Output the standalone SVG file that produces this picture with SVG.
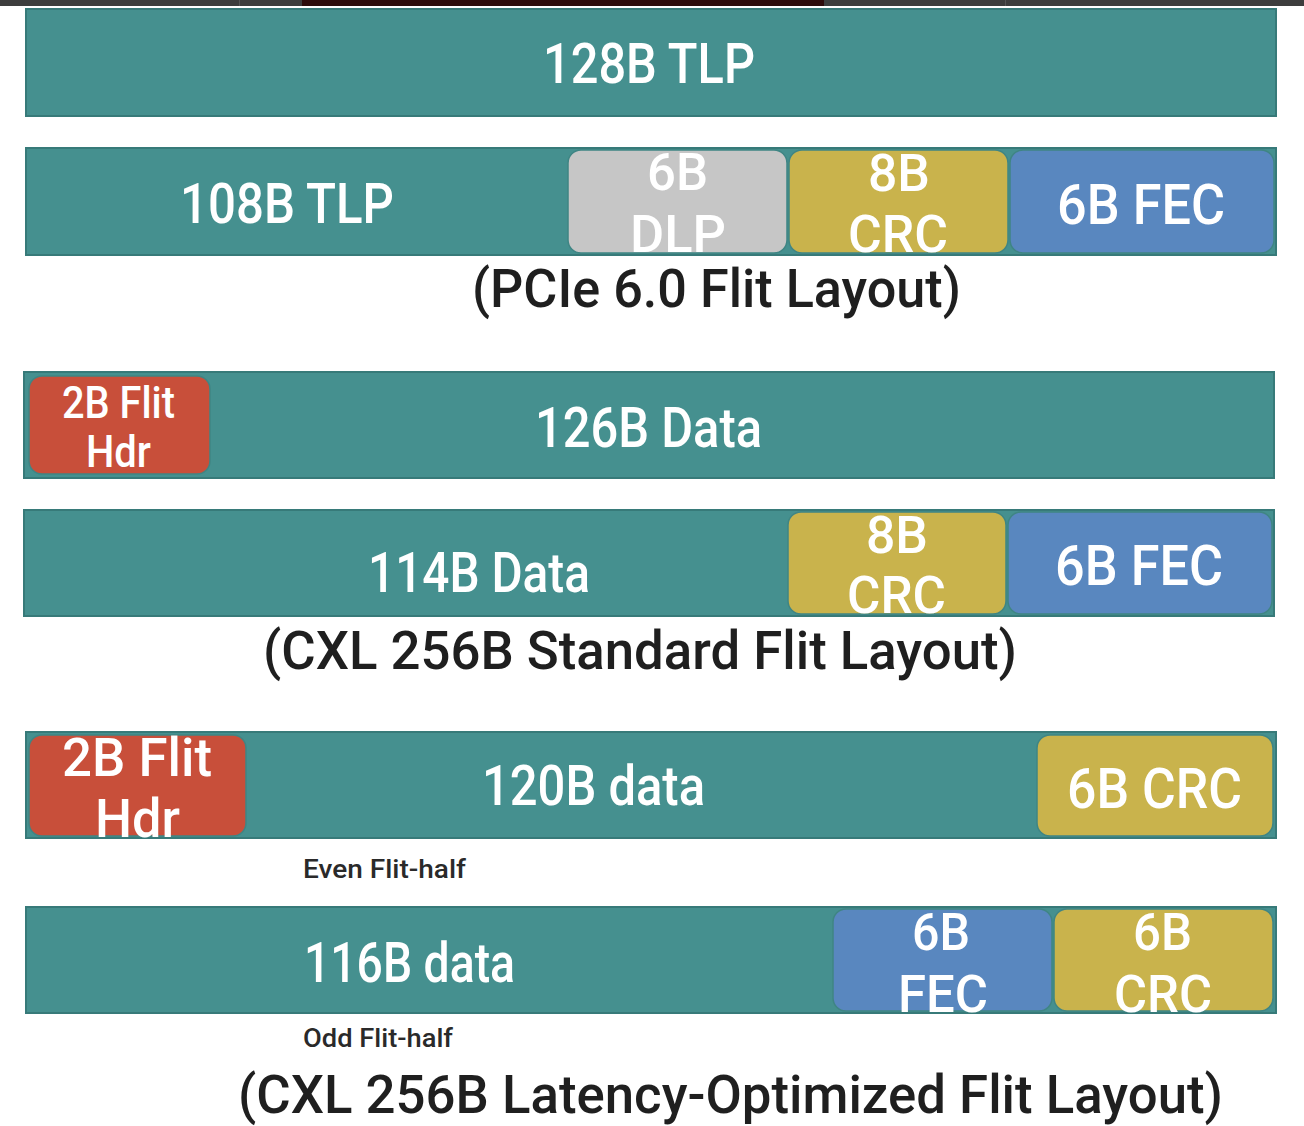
<svg xmlns="http://www.w3.org/2000/svg" width="1304" height="1126" viewBox="0 0 1304 1126">
<style>
.bar{fill:#45908f;stroke:#377a79;stroke-width:2}
.dlp{fill:#c6c6c6;stroke:#3f8584;stroke-width:1.5}
.crc{fill:#c9b34c;stroke:#3f8584;stroke-width:1.5}
.fec{fill:#5987bf;stroke:#3f8584;stroke-width:1.5}
.hdr{fill:#c84f3a;stroke:#3f8584;stroke-width:1.5}
text{font-family:Roboto,"DejaVu Sans",sans-serif;font-weight:500}
.w{fill:#ffffff;font-size:55px}
.w2{fill:#ffffff;font-size:52px}
.cap{fill:#1f1f1f;font-size:53px}
.sm{fill:#2a2a2a;font-size:25px}
</style>
<rect x="0" y="0" width="1304" height="1126" fill="#ffffff"/>
<g id="topstrip">
<rect x="0" y="0" width="1304" height="6" fill="#3d3d3d"/>
<rect x="302" y="0" width="522" height="6" fill="#2e0b0b"/>
<rect x="239" y="0" width="1" height="6" fill="#555"/>
<rect x="1005" y="0" width="1" height="6" fill="#555"/>
</g>
<g id="pcie-tlp128">
<rect class="bar" x="26" y="9" width="1250" height="107"/>
<text class="w" x="543" y="83" textLength="212" lengthAdjust="spacingAndGlyphs">128B TLP</text>
</g>
<g id="pcie-flit">
<rect class="bar" x="26" y="148" width="1250" height="107"/>
<text class="w" x="180" y="223" textLength="214" lengthAdjust="spacingAndGlyphs">108B TLP</text>
</g>
<g id="pcie-dlp">
<rect class="dlp" x="568" y="150" width="219" height="103" rx="13"/>
<text class="w2" x="647" y="190" textLength="61" lengthAdjust="spacingAndGlyphs">6B</text>
<text class="w2" x="630" y="252" textLength="96" lengthAdjust="spacingAndGlyphs">DLP</text>
</g>
<g id="pcie-crc">
<rect class="crc" x="789" y="150" width="219" height="103" rx="13"/>
<text class="w2" x="868" y="191" textLength="62" lengthAdjust="spacingAndGlyphs">8B</text>
<text class="w2" x="848" y="252" textLength="100" lengthAdjust="spacingAndGlyphs">CRC</text>
</g>
<g id="pcie-fec">
<rect class="fec" x="1010" y="150" width="264" height="103" rx="13"/>
<text class="w" x="1057" y="224" textLength="168" lengthAdjust="spacingAndGlyphs">6B FEC</text>
</g>
<g id="pcie-caption">
<text class="cap" x="472" y="307" textLength="489" lengthAdjust="spacingAndGlyphs">(PCIe 6.0 Flit Layout)</text>
</g>
<g id="std-row1">
<rect class="bar" x="24" y="372" width="1250" height="106"/>
<text class="w" x="535" y="447" textLength="227" lengthAdjust="spacingAndGlyphs">126B Data</text>
</g>
<g id="std-hdr">
<rect class="hdr" x="29" y="376" width="181" height="98" rx="13"/>
<text class="w" style="font-size:44px" x="62" y="418" textLength="113" lengthAdjust="spacingAndGlyphs">2B Flit</text>
<text class="w" style="font-size:44px" x="86" y="467" textLength="65" lengthAdjust="spacingAndGlyphs">Hdr</text>
</g>
<g id="std-row2">
<rect class="bar" x="24" y="510" width="1250" height="106"/>
<text class="w" x="368" y="592" textLength="222" lengthAdjust="spacingAndGlyphs">114B Data</text>
</g>
<g id="std-crc">
<rect class="crc" x="788" y="512" width="218" height="102" rx="13"/>
<text class="w2" x="866" y="553" textLength="62" lengthAdjust="spacingAndGlyphs">8B</text>
<text class="w2" x="847" y="613" textLength="99" lengthAdjust="spacingAndGlyphs">CRC</text>
</g>
<g id="std-fec">
<rect class="fec" x="1008" y="512" width="264" height="102" rx="13"/>
<text class="w" x="1055" y="585" textLength="168" lengthAdjust="spacingAndGlyphs">6B FEC</text>
</g>
<g id="std-caption">
<text class="cap" x="263" y="669" textLength="754" lengthAdjust="spacingAndGlyphs">(CXL 256B Standard Flit Layout)</text>
</g>
<g id="lo-even">
<rect class="bar" x="26" y="732" width="1250" height="106"/>
<text class="w" x="482" y="805" textLength="223" lengthAdjust="spacingAndGlyphs">120B data</text>
</g>
<g id="lo-hdr">
<rect class="hdr" x="29" y="735" width="217" height="101" rx="13"/>
<text class="w" style="font-size:53px" x="62" y="776" textLength="150" lengthAdjust="spacingAndGlyphs">2B Flit</text>
<text class="w" style="font-size:53px" x="95" y="837" textLength="85" lengthAdjust="spacingAndGlyphs">Hdr</text>
</g>
<g id="lo-even-crc">
<rect class="crc" x="1037" y="735" width="236" height="101" rx="13"/>
<text class="w" x="1067" y="808" textLength="175" lengthAdjust="spacingAndGlyphs">6B CRC</text>
</g>
<g id="lo-even-label">
<text class="sm" x="303" y="878" textLength="163" lengthAdjust="spacingAndGlyphs">Even Flit-half</text>
</g>
<g id="lo-odd">
<rect class="bar" x="26" y="907" width="1250" height="106"/>
<text class="w" x="304" y="982" textLength="211" lengthAdjust="spacingAndGlyphs">116B data</text>
</g>
<g id="lo-odd-fec">
<rect class="fec" x="833" y="909" width="219" height="102" rx="13"/>
<text class="w2" x="912" y="950" textLength="58" lengthAdjust="spacingAndGlyphs">6B</text>
<text class="w2" x="898" y="1012" textLength="90" lengthAdjust="spacingAndGlyphs">FEC</text>
</g>
<g id="lo-odd-crc">
<rect class="crc" x="1054" y="909" width="219" height="102" rx="13"/>
<text class="w2" x="1133" y="950" textLength="59" lengthAdjust="spacingAndGlyphs">6B</text>
<text class="w2" x="1114" y="1012" textLength="98" lengthAdjust="spacingAndGlyphs">CRC</text>
</g>
<g id="lo-odd-label">
<text class="sm" x="303" y="1047" textLength="150" lengthAdjust="spacingAndGlyphs">Odd Flit-half</text>
</g>
<g id="lo-caption">
<text class="cap" x="238" y="1113" textLength="985" lengthAdjust="spacingAndGlyphs">(CXL 256B Latency-Optimized Flit Layout)</text>
</g>
<g id="connectors"></g>
</svg>
